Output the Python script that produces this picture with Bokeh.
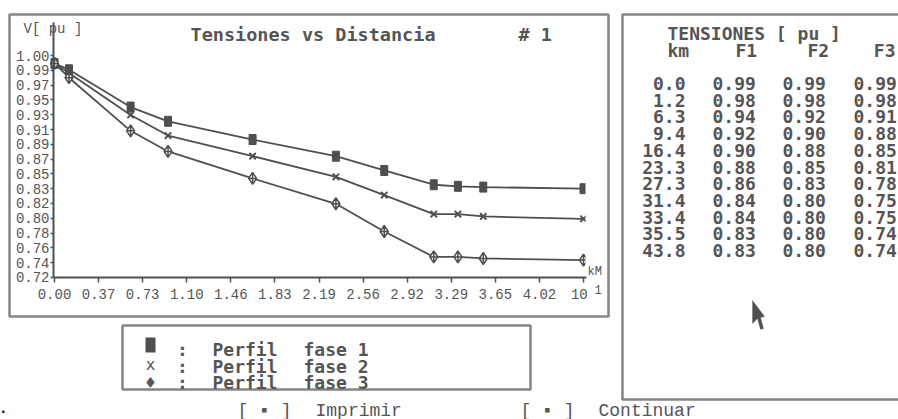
from bokeh.plotting import figure
from bokeh.models import (Range1d, FixedTicker, Label, BoxAnnotation, PolyAnnotation,
                          LinearAxis)
from bokeh.embed import file_html
from bokeh.resources import INLINE

# ---------------- data ----------------
km = [0.0, 1.2, 6.3, 9.4, 16.4, 23.3, 27.3, 31.4, 33.4, 35.5, 43.8]
# plotted curves
v_fase1 = [0.990, 0.982, 0.935, 0.917, 0.894, 0.873, 0.855, 0.837, 0.835, 0.834, 0.832]
v_fase2 = [0.990, 0.978, 0.925, 0.899, 0.873, 0.847, 0.824, 0.800, 0.800, 0.797, 0.794]
v_fase3 = [0.990, 0.972, 0.905, 0.879, 0.845, 0.813, 0.778, 0.746, 0.746, 0.744, 0.742]
# table on the right (printed values)
tabla_f1 = [0.99, 0.98, 0.94, 0.92, 0.90, 0.88, 0.86, 0.84, 0.84, 0.83, 0.83]
tabla_f2 = [0.99, 0.98, 0.92, 0.90, 0.88, 0.85, 0.83, 0.80, 0.80, 0.80, 0.80]
tabla_f3 = [0.99, 0.98, 0.91, 0.88, 0.85, 0.81, 0.78, 0.75, 0.75, 0.74, 0.74]

x_tick_labels = ["0.00", "0.37", "0.73", "1.10", "1.46", "1.83", "2.19",
                 "2.56", "2.92", "3.29", "3.65", "4.02", "10\u00a0"]
y_tick_labels = ["0.72", "0.74", "0.76", "0.78", "0.80", "0.82", "0.83", "0.85",
                 "0.87", "0.89", "0.91", "0.93", "0.95", "0.97", "0.99", "1.00"]
legend_labels = ["fase 1", "fase 2", "fase 3"]

# ---------------- layout ----------------
W, H = 898, 419
INK = "#4f4f4f"
TXT = "#555555"
BOX = "#858585"
BIG = "DejaVu Sans Mono"
SMALL = "Liberation Mono"

x_km = [k / 10.0 for k in km]          # axis in units of 10 km (x10^1)
x_max = 4.38
x_ticks = [i * x_max / 12 for i in range(13)]
y_ticks = [0.72 + i * 0.28 / 15 for i in range(16)]

# frame = whole canvas; default ranges are pixel-like, chart uses extra ranges
p = figure(width=W, height=H, output_backend="svg", toolbar_location=None,
           x_range=Range1d(0, W), y_range=Range1d(H, 0),
           x_axis_type=None, y_axis_type=None, min_border=0)
p.extra_x_ranges = {"km": Range1d(-0.44709, 6.98791)}
p.extra_y_ranges = {"pu": Range1d(0.54090, 1.06937)}
p.outline_line_color = None
p.background_fill_color = "white"
p.border_fill_color = "white"

xa = LinearAxis(x_range_name="km", y_range_name="pu", fixed_location=0.72,
                bounds=(-0.00828, 4.4047), ticker=FixedTicker(ticks=x_ticks))
xa.major_label_overrides = {t: s for t, s in zip(x_ticks, x_tick_labels)}
ya = LinearAxis(x_range_name="km", y_range_name="pu", fixed_location=-0.00828,
                bounds=(0.72, 1.04162), ticker=FixedTicker(ticks=y_ticks))
ya.major_label_overrides = {t: s for t, s in zip(y_ticks, y_tick_labels)}
for ax in (xa, ya):
    ax.axis_line_color = INK
    ax.axis_line_width = 2
    ax.major_tick_line_color = INK
    ax.major_tick_line_width = 1.5
    ax.minor_tick_line_color = None
    ax.major_tick_in = 0
    ax.major_label_text_font = SMALL
    ax.major_label_text_font_size = "14px"
    ax.major_label_text_color = TXT
xa.major_tick_out = 5
xa.major_label_standoff = 5
ya.major_tick_out = 3
ya.major_label_standoff = 1
p.add_layout(xa, "below")
p.add_layout(ya, "left")

# ---------------- curves ----------------
for vals in (v_fase1, v_fase2, v_fase3):
    p.line(x_km, vals, line_color=INK, line_width=1.8, x_range_name="km", y_range_name="pu")
p.rect(x_km, v_fase1, width=7, height=10, width_units="screen", height_units="screen",
       fill_color=INK, line_color=INK, x_range_name="km", y_range_name="pu")
p.scatter(x_km, v_fase2, marker="x", size=9, line_color=INK, line_width=2,
          x_range_name="km", y_range_name="pu")
p.scatter(x_km, v_fase3, marker="diamond_cross", size=12, line_color=INK,
          fill_color="white", line_width=1.5, x_range_name="km", y_range_name="pu")


# ---------------- decorations (pixel coordinates) ----------------
def txt(x, y, s, size="18px", font=BIG, bold=True, align="left", color=TXT):
    p.add_layout(Label(x=x, y=y, text=s,
                       text_font=font, text_font_size=size,
                       text_font_style="bold" if bold else "normal",
                       text_color=color, text_align=align, text_baseline="alphabetic"))


def box(l, r, t, b, fill=None):
    p.add_layout(BoxAnnotation(left=l, right=r, top=t, bottom=b,
                               fill_color=fill if fill else "white",
                               fill_alpha=1 if fill else 0,
                               line_color=BOX if not fill else fill,
                               line_alpha=1 if not fill else 0,
                               line_width=2.5))


# the chart frame of the original cuts the last markers in half
box(585, 600, 178, 266, fill="white")

# panels
box(9, 608, 14, 316)
box(622, 912, 14, 399)
box(122, 530, 325, 389)

# chart texts
txt(23, 28, "V[ pu ]", size="14px", font=SMALL, bold=False)
txt(190, 34, "Tensiones vs Distancia", size="18.5px")
txt(518, 34, "# 1", size="18.5px")
txt(587, 271, "kM", size="12px", font=SMALL, bold=False)
txt(594, 289, "1", size="12px", font=SMALL, bold=False)
txt(-2, 407, ".", size="16px", font=SMALL, bold=True, color="#222222")

# legend
box(145, 155, 337, 352, fill=INK)
txt(150, 364, "x", size="16px", bold=False, align="center")
txt(150, 382, "\u2666", size="18px", align="center")
for i, lab in enumerate(legend_labels):
    yb = 349 + 16.5 * i
    txt(182, yb, ":", align="center")
    txt(212, yb, "Perfil")
    txt(303, yb, lab)

# table
txt(667, 33, "TENSIONES [ pu  ]")
txt(667, 50, "km")
txt(735, 50, "F1")
txt(807, 50, "F2")
txt(895, 50, "F3", align="right")
for i in range(len(km)):
    yb = 83 + 16.7 * i
    txt(685, yb, "%.1f" % km[i], align="right")
    txt(712, yb, "%.2f" % tabla_f1[i])
    txt(782, yb, "%.2f" % tabla_f2[i])
    txt(853, yb, "%.2f" % tabla_f3[i])

# buttons
txt(237, 410, "[ \u25aa ]", font=SMALL, bold=False)
txt(315, 410, "Imprimir", font=SMALL, bold=False)
txt(520, 410, "[ \u25aa ]", font=SMALL, bold=False)
txt(598, 410, "Continuar", font=SMALL, bold=False)

# mouse pointer
p.add_layout(PolyAnnotation(xs=[752, 752, 757, 760, 763, 760, 764],
                            ys=[300, 323, 318, 329, 328, 317, 316],
                            fill_color=INK, fill_alpha=1, line_color=INK, line_width=1))

open("out.html", "w").write(file_html(p, INLINE))
